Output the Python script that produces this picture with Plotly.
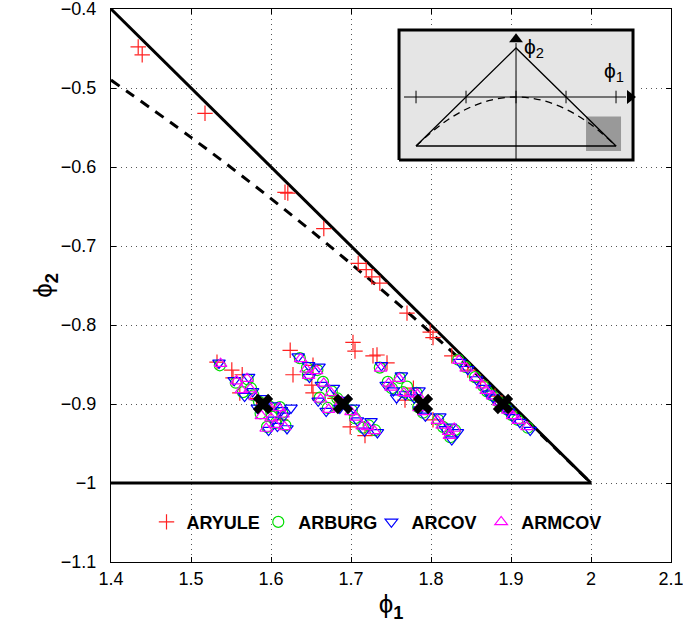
import plotly.graph_objects as go

# ---------------- data ----------------
# stability-triangle edge phi2 = 1 - phi1 (phi1 > 0) and bottom edge phi2 = -1
edge_x = [1.4, 2.0]
edge_y = [-0.4, -1.0]
bottom_x = [1.4, 2.0]
bottom_y = [-1.0, -1.0]
# real/complex root boundary (dashed)
par_x = [1.4, 1.5, 1.6, 1.7, 1.8, 1.9, 2.0]
par_y = [-0.49, -0.5625, -0.64, -0.7225, -0.81, -0.9025, -1.0]

# true parameters
true_x = [1.59, 1.69, 1.79, 1.89]
true_y = [-0.9, -0.9, -0.9, -0.9]

x_ticks = [1.4, 1.5, 1.6, 1.7, 1.8, 1.9, 2.0, 2.1]
x_tick_text = ["1.4", "1.5", "1.6", "1.7", "1.8", "1.9", "2", "2.1"]
y_ticks = [-1.1, -1.0, -0.9, -0.8, -0.7, -0.6, -0.5, -0.4]
y_tick_text = ["−1.1", "−1", "−0.9", "−0.8", "−0.7", "−0.6", "−0.5", "−0.4"]

yule_x = [1.434, 1.439, 1.5175, 1.6175, 1.621, 1.666, 1.709, 1.719, 1.726, 1.736,
          1.770, 1.799, 1.8025, 1.624, 1.6275, 1.7025, 1.705, 1.7275, 1.7325, 1.826, 1.846,
          1.5325, 1.551, 1.564, 1.5525, 1.561, 1.582, 1.600, 1.612,
          1.6525, 1.651, 1.6525, 1.699, 1.7175, 1.680,
          1.745, 1.7675, 1.8025, 1.778,
          1.862, 1.880, 1.898]
yule_y = [-0.448, -0.458, -0.532, -0.632, -0.633, -0.678, -0.722, -0.730, -0.739, -0.747,
          -0.785, -0.809, -0.816, -0.832, -0.863, -0.822, -0.833, -0.839, -0.838, -0.839, -0.857,
          -0.847, -0.857, -0.863, -0.867, -0.886, -0.893, -0.905, -0.920,
          -0.851, -0.876, -0.886, -0.929, -0.940, -0.893,
          -0.848, -0.895, -0.920, -0.880,
          -0.872, -0.890, -0.910]

burg_x = [1.536, 1.556, 1.571, 1.575, 1.578, 1.585, 1.598, 1.611, 1.614, 1.601, 1.606, 1.618, 1.595, 1.587, 1.565,
          1.636, 1.645, 1.658, 1.646, 1.665, 1.676, 1.661, 1.671, 1.683, 1.701, 1.705, 1.715, 1.722, 1.730, 1.690,
          1.736, 1.746, 1.751, 1.761, 1.765, 1.776, 1.782, 1.784, 1.790, 1.809, 1.815, 1.821, 1.824, 1.830, 1.770,
          1.834, 1.843, 1.855, 1.865, 1.876, 1.884, 1.895, 1.901, 1.908, 1.921, 1.870, 1.890]
burg_y = [-0.851, -0.873, -0.869, -0.880, -0.889, -0.897, -0.903, -0.904, -0.911, -0.916, -0.924, -0.927, -0.929, -0.912, -0.885,
          -0.842, -0.854, -0.857, -0.863, -0.872, -0.884, -0.892, -0.905, -0.893, -0.908, -0.918, -0.930, -0.927, -0.933, -0.899,
          -0.854, -0.872, -0.880, -0.867, -0.885, -0.889, -0.886, -0.904, -0.911, -0.920, -0.929, -0.933, -0.942, -0.933, -0.878,
          -0.844, -0.853, -0.866, -0.877, -0.889, -0.897, -0.907, -0.914, -0.920, -0.930, -0.884, -0.903]

cov_x = [1.535, 1.554, 1.572, 1.577, 1.590, 1.604, 1.613, 1.616, 1.603, 1.608, 1.620, 1.597, 1.583, 1.567, 1.625,
         1.634, 1.647, 1.660, 1.648, 1.663, 1.678, 1.659, 1.669, 1.692, 1.703, 1.708, 1.717, 1.725, 1.733, 1.686,
         1.738, 1.744, 1.753, 1.763, 1.768, 1.779, 1.785, 1.786, 1.793, 1.811, 1.818, 1.824, 1.826, 1.833, 1.757,
         1.836, 1.846, 1.857, 1.867, 1.878, 1.886, 1.897, 1.903, 1.911, 1.924, 1.872, 1.893]
cov_y = [-0.848, -0.870, -0.866, -0.884, -0.893, -0.902, -0.908, -0.915, -0.920, -0.928, -0.931, -0.933, -0.905, -0.890, -0.905,
         -0.840, -0.851, -0.853, -0.866, -0.876, -0.880, -0.896, -0.909, -0.895, -0.905, -0.921, -0.934, -0.922, -0.936, -0.905,
         -0.851, -0.876, -0.883, -0.864, -0.888, -0.892, -0.883, -0.907, -0.915, -0.916, -0.932, -0.929, -0.945, -0.936, -0.892,
         -0.847, -0.856, -0.869, -0.880, -0.892, -0.900, -0.910, -0.917, -0.923, -0.933, -0.887, -0.906]

mcov_x = [1.537, 1.557, 1.570, 1.574, 1.580, 1.596, 1.610, 1.615, 1.600, 1.605, 1.617, 1.594, 1.588, 1.563,
          1.637, 1.644, 1.657, 1.647, 1.666, 1.675, 1.662, 1.672, 1.700, 1.706, 1.714, 1.721, 1.729, 1.688,
          1.737, 1.747, 1.750, 1.760, 1.766, 1.775, 1.783, 1.785, 1.791, 1.808, 1.814, 1.822, 1.823, 1.829,
          1.835, 1.844, 1.856, 1.864, 1.877, 1.885, 1.896, 1.902, 1.909, 1.920, 1.869]
mcov_y = [-0.849, -0.871, -0.868, -0.881, -0.891, -0.900, -0.905, -0.913, -0.918, -0.926, -0.929, -0.931, -0.915, -0.882,
          -0.843, -0.856, -0.858, -0.864, -0.874, -0.886, -0.894, -0.907, -0.910, -0.917, -0.928, -0.929, -0.934, -0.897,
          -0.855, -0.874, -0.879, -0.868, -0.886, -0.887, -0.888, -0.905, -0.910, -0.921, -0.927, -0.935, -0.940, -0.931,
          -0.845, -0.855, -0.867, -0.876, -0.890, -0.898, -0.908, -0.915, -0.921, -0.929, -0.883]

# inset (full stability triangle)
ins_box_x = [-2.34, 2.34, 2.34, -2.34, -2.34]
ins_box_y = [-1.286, -1.286, 1.367, 1.367, -1.286]
ins_tri_x = [-2.0, 0.0, 2.0, -2.0]
ins_tri_y = [-1.0, 1.0, -1.0, -1.0]
ins_par_x = [-2.0, -1.5, -1.0, -0.5, 0.0, 0.5, 1.0, 1.5, 2.0]
ins_par_y = [-1.0, -0.5625, -0.25, -0.0625, 0.0, -0.0625, -0.25, -0.5625, -1.0]
ins_zoom_x = [1.4, 2.1, 2.1, 1.4, 1.4]
ins_zoom_y = [-1.1, -1.1, -0.4, -0.4, -1.1]
ins_ticks = [-2, -1, 0, 1, 2]

# ---------------- figure ----------------
fig = go.Figure()
FONT = "Liberation Sans"

fig.add_trace(go.Scatter(x=edge_x, y=edge_y, mode="lines", line=dict(color="black", width=3),
                         showlegend=False, hoverinfo="skip"))
fig.add_trace(go.Scatter(x=bottom_x, y=bottom_y, mode="lines", line=dict(color="black", width=3),
                         showlegend=False, hoverinfo="skip"))
fig.add_trace(go.Scatter(x=par_x, y=par_y, mode="lines", line=dict(color="black", width=3, dash="10px,8px", shape="spline"),
                         showlegend=False, hoverinfo="skip"))

fig.add_trace(go.Scatter(x=yule_x, y=yule_y, mode="markers", name="<b>ARYULE</b>", legend="legend",
                         marker=dict(symbol="cross-thin", size=11, line=dict(color="#ff2020", width=1.2))))
fig.add_trace(go.Scatter(x=burg_x, y=burg_y, mode="markers", name="<b>ARBURG</b>", legend="legend2",
                         marker=dict(symbol="circle-open", size=11, color="#00dd00", line=dict(width=1.2))))
fig.add_trace(go.Scatter(x=cov_x, y=cov_y, mode="markers", name="<b>ARCOV</b>", legend="legend3",
                         marker=dict(symbol="triangle-down-open", size=11, color="#0000ff", line=dict(width=1.2))))
fig.add_trace(go.Scatter(x=mcov_x, y=mcov_y, mode="markers", name="<b>ARMCOV</b>", legend="legend4",
                         marker=dict(symbol="triangle-up-open", size=11, color="#ff00ff", line=dict(width=1.2))))
fig.add_trace(go.Scatter(x=true_x, y=true_y, mode="markers", showlegend=False,
                         marker=dict(symbol="x", size=18, color="black", line=dict(width=0))))

# inset traces
ins = dict(xaxis="x2", yaxis="y2", showlegend=False, hoverinfo="skip")
fig.add_trace(go.Scatter(x=ins_box_x, y=ins_box_y, mode="lines", fill="toself", fillcolor="#e5e5e5",
                         line=dict(color="black", width=3), **ins))
fig.add_trace(go.Scatter(x=ins_zoom_x, y=ins_zoom_y, mode="lines", fill="toself", fillcolor="#999999",
                         line=dict(width=0), **ins))
fig.add_trace(go.Scatter(x=[-2.24, 2.2], y=[0, 0], mode="lines", line=dict(color="black", width=1), **ins))
fig.add_trace(go.Scatter(x=[0, 0], y=[-1.3, 1.1], mode="lines", line=dict(color="black", width=1), **ins))
fig.add_trace(go.Scatter(x=ins_ticks, y=[0] * len(ins_ticks), mode="markers",
                         marker=dict(symbol="line-ns", size=9, line=dict(color="black", width=1)), **ins))
fig.add_trace(go.Scatter(x=[2.28], y=[0], mode="markers",
                         marker=dict(symbol="triangle-right", size=12, color="black"), **ins))
fig.add_trace(go.Scatter(x=[0], y=[1.18], mode="markers",
                         marker=dict(symbol="triangle-up", size=12, color="black"), **ins))
fig.add_trace(go.Scatter(x=ins_tri_x, y=ins_tri_y, mode="lines", line=dict(color="black", width=1.3), **ins))
fig.add_trace(go.Scatter(x=ins_par_x, y=ins_par_y, mode="lines",
                         line=dict(color="black", width=1.3, dash="7px,5px", shape="spline"), **ins))

fig.add_annotation(x=0.12, y=1.0, xref="x2", yref="y2", text="ϕ<sub>2</sub>", showarrow=False,
                   xanchor="left", font=dict(family=FONT, size=21, color="black"))
fig.add_annotation(x=1.72, y=0.5, xref="x2", yref="y2", text="ϕ<sub>1</sub>", showarrow=False,
                   xanchor="left", font=dict(family=FONT, size=21, color="black"))

axis_common = dict(showline=True, linecolor="black", linewidth=1, mirror="ticks", ticks="inside",
                   ticklen=5, tickcolor="black", showgrid=True, gridcolor="#555555", griddash="1px,4px",
                   gridwidth=1, zeroline=False, automargin=False, ticklabeloverflow="allow",
                   tickfont=dict(family=FONT, size=18, color="black"))

leg_common = dict(orientation="h", y=0.072, xanchor="left", yanchor="middle",
                  bgcolor="rgba(0,0,0,0)", font=dict(family=FONT, size=18, color="black"),
                  itemwidth=30)

fig.update_layout(
    width=683, height=632,
    margin=dict(l=111, r=12, t=9, b=70),
    paper_bgcolor="white", plot_bgcolor="white",
    font=dict(family=FONT, color="black"),
    xaxis=dict(range=[1.4, 2.1], tickmode="array", tickvals=x_ticks, ticktext=x_tick_text,
               title=dict(text="ϕ<sub><b>1</b></sub>", font=dict(size=26), standoff=7), **axis_common),
    yaxis=dict(range=[-1.1, -0.4], tickmode="array", tickvals=y_ticks, ticktext=y_tick_text,
               ticklabelstandoff=10,
               title=dict(text="ϕ<sub><b>2</b></sub>", font=dict(size=26), standoff=0), **axis_common),
    xaxis2=dict(domain=[0.5045, 0.942], range=[-2.45, 2.45], visible=False, anchor="y2"),
    yaxis2=dict(domain=[0.7212, 0.9676], range=[-1.35, 1.43], visible=False, anchor="x2"),
    legend=dict(x=0.0634, **leg_common),
    legend2=dict(x=0.263, **leg_common),
    legend3=dict(x=0.465, **leg_common),
    legend4=dict(x=0.661, **leg_common),
    showlegend=True,
)

fig.write_html("out.html", config={"displayModeBar": False},
               post_script="document.body.style.margin='0px';")
